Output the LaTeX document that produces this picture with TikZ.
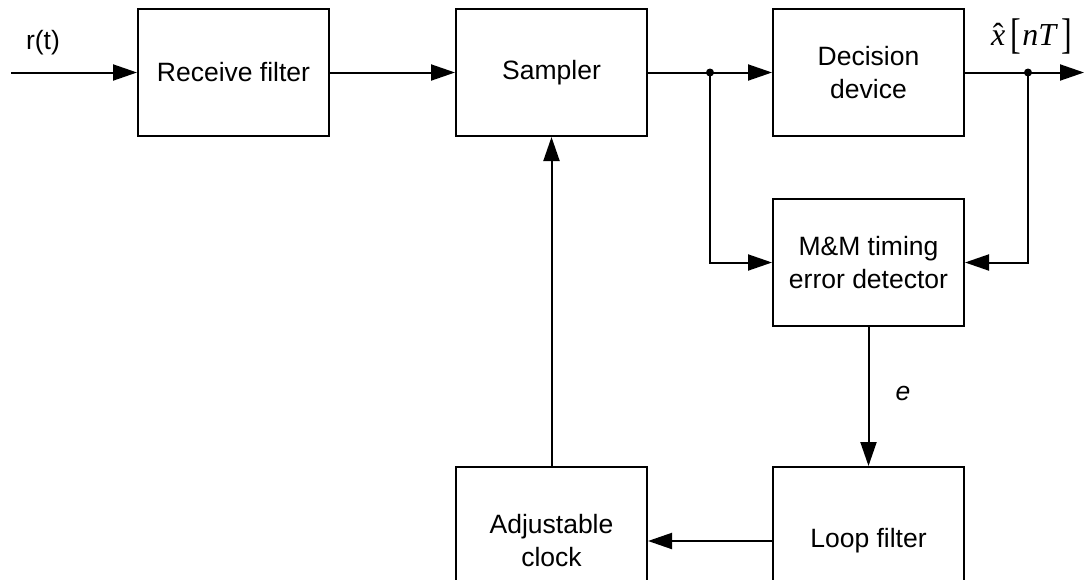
\documentclass[tikz,border=0pt]{standalone}
\usepackage{fontspec}
\setmainfont{Liberation Sans}
\newfontfamily\timesfont{Liberation Serif}
\usetikzlibrary{arrows.meta}
\newcommand\blockfont{\fontsize{26.5}{33}\selectfont}
% tall upright square brackets for the index of the symbol estimate
\newcommand\tallbrack[1]{\raisebox{-0.1em}{\scalebox{1}[1.34]{\upshape #1}}}
\begin{document}
\begin{tikzpicture}[x=1pt,y=-1pt,
  block/.style={draw, line width=2pt, minimum width=191pt, minimum height=127pt,
                align=center, font=\blockfont, inner sep=0pt},
  tallblock/.style={block, minimum height=148pt},
  flow/.style={line width=2pt, -{Triangle[length=24pt,width=16pt]}},
  wire/.style={line width=2pt},
  junction/.style={circle, fill, inner sep=0pt, minimum size=8pt},
  lbl/.style={font=\blockfont, inner sep=0pt}]
\useasboundingbox (0,0) rectangle (1084,579);
\clip (0,0) rectangle (1084,579);

% blocks
\node[block] (rf)  at (233.5,72.5) {Receive filter};
\node[block] (smp) at (551.5,72.5) {Sampler};
\node[block] (dec) at (868.5,72.5) {Decision\\device};
\node[block] (ted) at (868.5,262.5) {M\&M timing\\error detector};
\node[tallblock] (lf)  at (868.5,541) {Loop filter};
\node[tallblock] (clk) at (551.5,541) {Adjustable\\clock};

% free ends and branch points
\coordinate (in)  at (11,72.5);
\coordinate (out) at (1084,72.5);
\node[junction] (j1) at (710,72.5) {};
\node[junction] (j2) at (1028,72.5) {};

% signal path
\draw[flow] (in) -- (rf.west);
\draw[flow] (rf.east) -- (smp.west);
\draw[wire] (smp.east) -- (j1.center);
\draw[flow] (j1.center) -- (dec.west);
\draw[wire] (dec.east) -- (j2.center);
\draw[flow] (j2.center) -- (out);

% timing recovery loop
\draw[flow] (j1.center) |- (ted.west);
\draw[flow] (j2.center) |- (ted.east);
\draw[flow] (ted.south) -- (lf.north);
\draw[flow] (lf.west |- clk.east) -- (clk.east);
\draw[flow] (clk.north) -- (smp.south);

% labels
\node[lbl] (rt) at (43,43) {r(t)};
\node[inner sep=0pt, anchor=base west] (xh) at (991,45)
  {\timesfont\fontsize{32}{36}\selectfont\itshape
   \ooalign{x\cr\hidewidth\upshape ˆ\hidewidth\cr}\hspace{0.15em}%
   \tallbrack{[}\hspace{0.05em}nT\hspace{0.15em}\tallbrack{]}};
\node[lbl] (e)  at (903,393) {\itshape e};
\end{tikzpicture}
\end{document}
